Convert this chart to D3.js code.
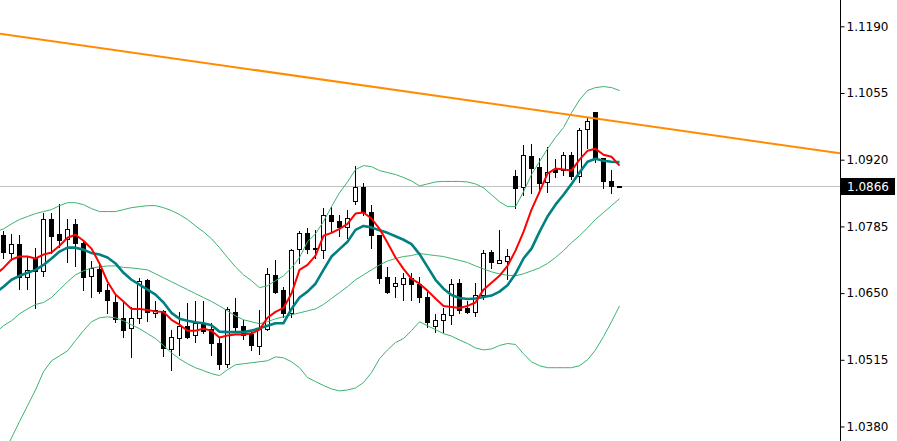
<!DOCTYPE html>
<html><head><meta charset="utf-8">
<script src="https://cdn.jsdelivr.net/npm/d3@7"></script>
<style>html,body{margin:0;padding:0;background:#fff;}svg{display:block;}</style>
</head><body><svg id="c" width="897" height="441"></svg>
<script>
// ---- data (prices) ----
const openP = [1.0768,1.0732,1.0750,1.0683,1.0722,1.0695,1.0799,1.0770,1.0760,1.0790,
  1.0752,1.0685,1.0699,1.0657,1.0631,1.0600,1.0580,1.0600,1.0677,1.0610,
  1.0614,1.0537,1.0560,1.0584,1.0566,1.0590,1.0578,1.0550,1.0507,1.0612,
  1.0584,1.0568,1.0542,1.0578,1.0687,1.0657,1.0610,1.0740,1.0772,1.0742,
  1.0738,1.0809,1.0795,1.0784,1.0837,1.0865,1.0815,1.0768,1.0683,1.0665,
  1.0669,1.0681,1.0669,1.0643,1.0584,1.0596,1.0606,1.0671,1.0620,1.0612,
  1.0647,1.0734,1.0710,1.0714,1.0888,1.0865,1.0928,1.0906,1.0875,1.0902,
  1.0900,1.0930,1.0886,1.0983,1.1017,1.0924,1.0877,1.0866];
const highP = [1.0776,1.0770,1.0768,1.0724,1.0742,1.0813,1.0813,1.0831,1.0799,1.0799,
  1.0756,1.0714,1.0712,1.0669,1.0649,1.0633,1.0622,1.0681,1.0679,1.0633,
  1.0616,1.0576,1.0612,1.0629,1.0633,1.0633,1.0590,1.0560,1.0622,1.0641,
  1.0596,1.0576,1.0616,1.0701,1.0716,1.0663,1.0740,1.0776,1.0782,1.0778,
  1.0823,1.0825,1.0809,1.0819,1.0908,1.0873,1.0829,1.0768,1.0703,1.0683,
  1.0691,1.0691,1.0683,1.0653,1.0608,1.0620,1.0679,1.0679,1.0633,1.0671,
  1.0738,1.0738,1.0778,1.0740,1.0900,1.0950,1.0952,1.0924,1.0946,1.0922,
  1.0936,1.0936,1.0985,1.1005,1.1017,1.0924,1.0900,1.0867];
const lowP = [1.0722,1.0716,1.0659,1.0659,1.0620,1.0685,1.0732,1.0744,1.0712,1.0705,
  1.0657,1.0643,1.0651,1.0610,1.0592,1.0562,1.0521,1.0590,1.0594,1.0602,
  1.0523,1.0495,1.0525,1.0560,1.0552,1.0570,1.0525,1.0497,1.0501,1.0576,
  1.0558,1.0535,1.0527,1.0576,1.0651,1.0602,1.0602,1.0710,1.0732,1.0722,
  1.0722,1.0774,1.0766,1.0762,1.0831,1.0809,1.0742,1.0671,1.0651,1.0643,
  1.0637,1.0637,1.0631,1.0582,1.0572,1.0572,1.0588,1.0610,1.0610,1.0604,
  1.0639,1.0701,1.0710,1.0679,1.0823,1.0849,1.0853,1.0853,1.0855,1.0884,
  1.0890,1.0880,1.0875,1.0944,1.0916,1.0863,1.0853,1.0865];
const closeP = [1.0734,1.0750,1.0683,1.0697,1.0695,1.0799,1.0766,1.0758,1.0780,1.0752,
  1.0683,1.0701,1.0655,1.0637,1.0598,1.0576,1.0600,1.0675,1.0612,1.0616,
  1.0539,1.0562,1.0584,1.0562,1.0590,1.0574,1.0548,1.0507,1.0618,1.0582,
  1.0566,1.0544,1.0578,1.0689,1.0653,1.0610,1.0738,1.0772,1.0740,1.0740,
  1.0809,1.0795,1.0784,1.0801,1.0865,1.0815,1.0768,1.0681,1.0653,1.0671,
  1.0681,1.0669,1.0643,1.0592,1.0596,1.0608,1.0669,1.0616,1.0612,1.0647,
  1.0732,1.0712,1.0716,1.0726,1.0863,1.0930,1.0904,1.0873,1.0896,1.0896,
  1.0930,1.0886,1.0981,1.0999,1.0924,1.0877,1.0867,1.0866];

// indicator lines, first value belongs to bar index -1 (just off the left edge)
const lineStart = -1;
const maFast = [1.0687,1.0701,1.0718,1.0724,1.0724,1.0720,1.0728,1.0732,1.0746,1.0762,1.0768,
  1.0756,1.0740,1.0710,1.0673,1.0647,1.0633,1.0618,1.0618,1.0616,1.0613,
  1.0612,1.0596,1.0586,1.0574,1.0574,1.0578,1.0574,1.0560,1.0564,1.0566,
  1.0566,1.0568,1.0576,1.0600,1.0612,1.0620,1.0649,1.0697,1.0707,1.0726,
  1.0766,1.0772,1.0780,1.0790,1.0811,1.0813,1.0801,1.0780,1.0752,1.0722,
  1.0699,1.0679,1.0669,1.0655,1.0639,1.0624,1.0622,1.0620,1.0624,1.0631,
  1.0657,1.0671,1.0685,1.0705,1.0736,1.0774,1.0819,1.0855,1.0892,1.0902,
  1.0900,1.0898,1.0920,1.0938,1.0942,1.0930,1.0926,1.0908];
const maSlow = [1.0651,1.0663,1.0677,1.0685,1.0691,1.0697,1.0707,1.0720,1.0734,1.0742,1.0742,
  1.0738,1.0731,1.0728,1.0722,1.0710,1.0691,1.0677,1.0667,1.0657,1.0647,
  1.0631,1.0610,1.0598,1.0594,1.0591,1.0589,1.0585,1.0572,1.0571,1.0571,
  1.0571,1.0574,1.0579,1.0584,1.0589,1.0589,1.0618,1.0641,1.0653,1.0669,
  1.0697,1.0724,1.0739,1.0754,1.0778,1.0786,1.0783,1.0777,1.0772,1.0765,
  1.0758,1.0749,1.0729,1.0703,1.0677,1.0659,1.0646,1.0640,1.0638,1.0639,
  1.0642,1.0645,1.0653,1.0666,1.0689,1.0720,1.0740,1.0774,1.0805,1.0829,
  1.0849,1.0871,1.0894,1.0916,1.0922,1.0918,1.0916,1.0915];
const bbUpper = [1.0774,1.0780,1.0790,1.0799,1.0805,1.0811,1.0815,1.0819,1.0827,1.0833,1.0833,
  1.0829,1.0821,1.0815,1.0815,1.0815,1.0819,1.0823,1.0825,1.0827,1.0827,
  1.0823,1.0817,1.0809,1.0799,1.0786,1.0774,1.0760,1.0742,1.0722,1.0703,
  1.0687,1.0675,1.0661,1.0665,1.0675,1.0685,1.0701,1.0722,1.0754,1.0770,
  1.0795,1.0825,1.0853,1.0875,1.0900,1.0908,1.0906,1.0898,1.0894,1.0890,
  1.0884,1.0877,1.0867,1.0871,1.0875,1.0876,1.0876,1.0876,1.0875,1.0871,
  1.0863,1.0849,1.0835,1.0825,1.0825,1.0855,1.0890,1.0916,1.0942,1.0965,
  1.0985,1.1015,1.1041,1.1060,1.1066,1.1068,1.1066,1.1060];
const bbMiddle = [1.0570,1.0584,1.0594,1.0608,1.0618,1.0627,1.0631,1.0641,1.0657,1.0673,1.0687,
  1.0695,1.0701,1.0703,1.0705,1.0705,1.0702,1.0701,1.0699,1.0697,1.0689,
  1.0681,1.0673,1.0665,1.0657,1.0649,1.0641,1.0633,1.0624,1.0614,1.0604,
  1.0596,1.0592,1.0588,1.0592,1.0598,1.0602,1.0606,1.0610,1.0614,1.0618,
  1.0627,1.0639,1.0651,1.0663,1.0677,1.0687,1.0697,1.0707,1.0715,1.0720,
  1.0724,1.0726,1.0730,1.0728,1.0726,1.0724,1.0720,1.0716,1.0712,1.0705,
  1.0699,1.0693,1.0689,1.0686,1.0685,1.0689,1.0695,1.0701,1.0710,1.0722,
  1.0736,1.0752,1.0766,1.0782,1.0799,1.0813,1.0827,1.0841];
const bbLower = [1.0289,1.0323,1.0357,1.0390,1.0422,1.0454,1.0491,1.0513,1.0523,1.0533,1.0554,
  1.0574,1.0592,1.0600,1.0602,1.0600,1.0594,1.0586,1.0578,1.0568,1.0558,
  1.0544,1.0529,1.0517,1.0507,1.0499,1.0493,1.0487,1.0483,1.0495,1.0505,
  1.0507,1.0509,1.0511,1.0513,1.0521,1.0519,1.0511,1.0499,1.0479,1.0471,
  1.0463,1.0456,1.0452,1.0454,1.0458,1.0469,1.0489,1.0517,1.0535,1.0550,
  1.0558,1.0574,1.0592,1.0584,1.0576,1.0568,1.0563,1.0555,1.0548,1.0539,
  1.0535,1.0537,1.0544,1.0548,1.0546,1.0527,1.0511,1.0503,1.0499,1.0499,
  1.0499,1.0499,1.0503,1.0515,1.0535,1.0562,1.0592,1.0624];

const trendIdx = [-0.4375, 104.5625];
const trendPrice = [1.1175, 1.0933];
const bidPrice = 1.0866;
const tickValues = [1.1190, 1.1055, 1.0920, 1.0785, 1.0650, 1.0515, 1.0380];

// ---- layout ----
const W = 897, H = 441, plotRight = 840;
const svg = d3.select('#c');
svg.append('rect').attr('width', W).attr('height', H).attr('fill', '#fff');

const x = d3.scaleLinear().domain([-0.4375, 104.5625]).range([0, plotRight]);
const y = d3.scaleLinear().domain([1.0380, 1.1190]).range([426.5, 26.3]);

svg.append('defs').append('clipPath').attr('id', 'clip')
  .append('rect').attr('x', 0).attr('y', 0).attr('width', plotRight).attr('height', H);
const plot = svg.append('g').attr('clip-path', 'url(#clip)');

// bid line
const by = Math.round(y(bidPrice)) + 0.5;
plot.append('line').attr('x1', 0).attr('x2', plotRight).attr('y1', by).attr('y2', by)
  .attr('stroke', '#c0c0c0').attr('stroke-width', 1);

// candles
const bars = openP.map((o, i) => ({i, o, h: highP[i], l: lowP[i], c: closeP[i]}));
const cg = plot.append('g');
bars.forEach(d => {
  const cx = x(d.i);
  const yh = Math.round(y(d.h)), yl = Math.round(y(d.l));
  cg.append('line').attr('x1', cx).attr('x2', cx).attr('y1', yh).attr('y2', yl + 1)
    .attr('stroke', '#000').attr('stroke-width', 1);
  const top = Math.round(y(Math.max(d.o, d.c))), bot = Math.round(y(Math.min(d.o, d.c)));
  if (d.c > d.o) {
    cg.append('rect').attr('x', cx - 2).attr('y', top + 0.5).attr('width', 4)
      .attr('height', Math.max(1, bot - top)).attr('fill', '#fff').attr('stroke', '#000').attr('stroke-width', 1);
  } else {
    cg.append('rect').attr('x', cx - 2.5).attr('y', top).attr('width', 5)
      .attr('height', Math.max(2, bot - top + 1)).attr('fill', '#000');
  }
});

// indicator lines
const line = d3.line().x((d, k) => x(k + lineStart)).y(d => y(d));
[[bbUpper, '#3cb371', 1], [bbMiddle, '#3cb371', 1], [bbLower, '#3cb371', 1],
 [maSlow, '#008080', 2.6], [maFast, '#ff0000', 2]].forEach(([arr, col, w]) => {
  plot.append('path').datum(arr).attr('d', line).attr('fill', 'none')
    .attr('stroke', col).attr('stroke-width', w).attr('stroke-linejoin', 'round');
});

// trend line
plot.append('line')
  .attr('x1', x(trendIdx[0])).attr('y1', y(trendPrice[0]))
  .attr('x2', x(trendIdx[1])).attr('y2', y(trendPrice[1]))
  .attr('stroke', '#ff8c00').attr('stroke-width', 2);

// right axis
svg.append('line').attr('x1', plotRight + 0.5).attr('x2', plotRight + 0.5)
  .attr('y1', 0).attr('y2', H).attr('stroke', '#000').attr('stroke-width', 1);
const ax = svg.append('g').attr('transform', `translate(${plotRight + 0.5},0)`)
  .call(d3.axisRight(y).tickValues(tickValues).tickSize(4).tickPadding(2).tickFormat(d3.format('.4f')));
ax.select('.domain').remove();
ax.selectAll('text').attr('font-family', '"DejaVu Sans", sans-serif').attr('font-size', 12).attr('fill', '#000');
ax.selectAll('line').attr('stroke', '#000');

// bid price label
svg.append('rect').attr('x', plotRight + 1).attr('y', by - 8.5).attr('width', 54).attr('height', 17).attr('fill', '#000');
svg.append('text').attr('x', plotRight + 7).attr('y', by).attr('dy', '0.36em')
  .attr('font-family', '"DejaVu Sans", sans-serif').attr('font-size', 12).attr('fill', '#fff')
  .text(d3.format('.4f')(bidPrice));
</script></body></html>
